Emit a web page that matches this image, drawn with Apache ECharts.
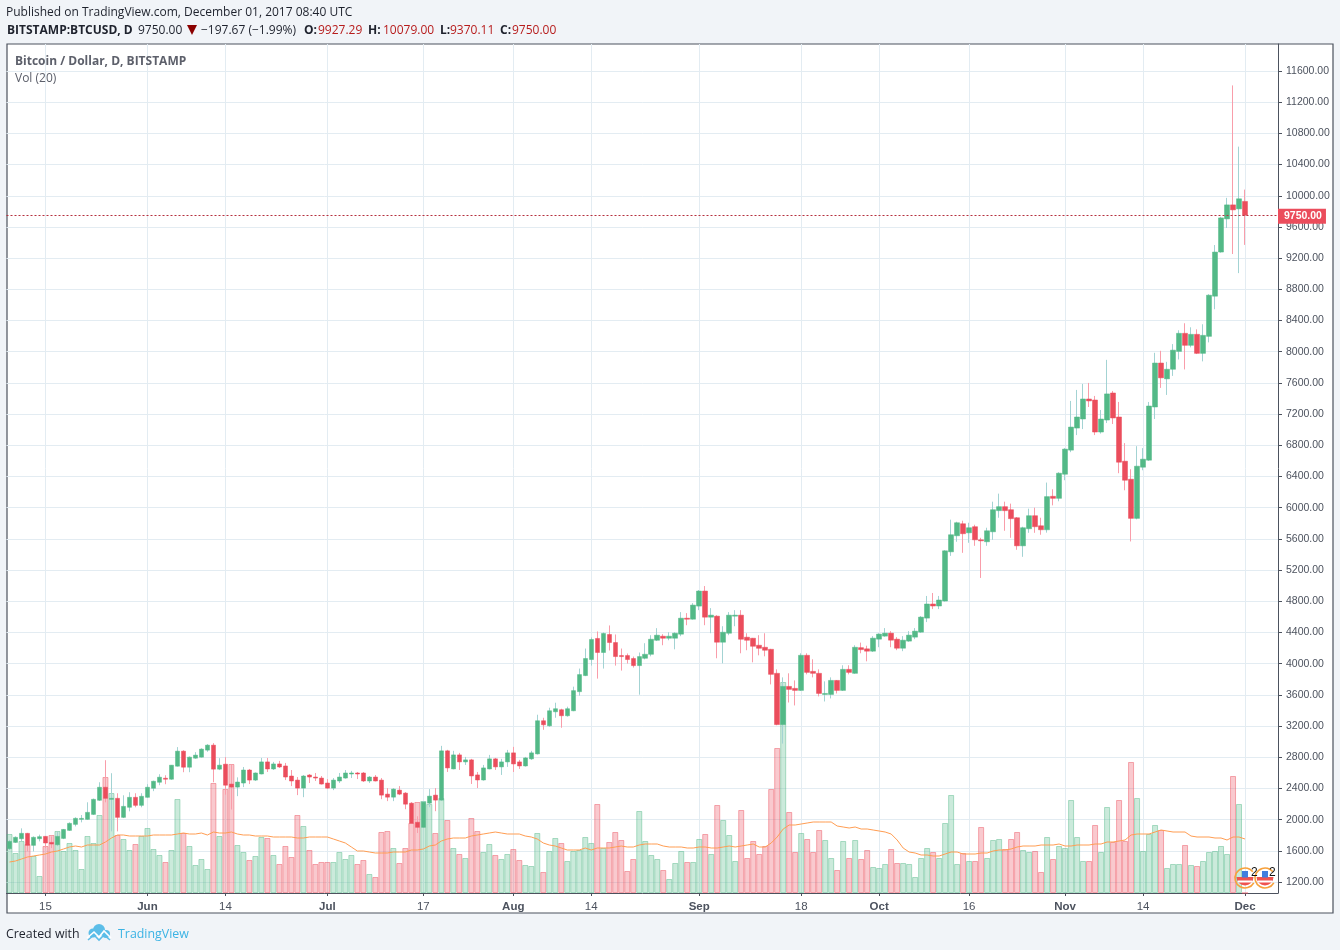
<!DOCTYPE html>
<html><head><meta charset="utf-8">
<style>html,body{margin:0;padding:0;background:#f1f4f8}#c{width:1340px;height:950px}</style>
<script src="https://cdn.jsdelivr.net/npm/echarts@6/dist/echarts.min.js"></script>
</head><body><div id="c"></div>
<script>
// Daily calendar, May 9 .. Dec 1 2017, plus empty days to the right of the last candle
const monthSpans = [['May',9,31],['Jun',1,30],['Jul',1,31],['Aug',1,31],['Sep',1,30],['Oct',1,31],['Nov',1,30],['Dec',1,6]];
const tickLabels = {'May 15':'15','Jun 1':'Jun','Jun 14':'14','Jul 1':'Jul','Jul 17':'17','Aug 1':'Aug','Aug 14':'14','Sep 1':'Sep','Sep 18':'18','Oct 1':'Oct','Oct 16':'16','Nov 1':'Nov','Nov 14':'14','Dec 1':'Dec'};
const priceTicks = [1200,1600,2000,2400,2800,3200,3600,4000,4400,4800,5200,5600,6000,6400,6800,7200,7600,8000,8400,8800,9200,9600,10000,10400,10800,11200,11600];

const opens = [
1627,1708,1755,1824,1670,1755,1785,1708,1678,1759,1862,1939,2003,2003,2067,2248,2415,2260,2273,2029,2158,2286,2183,
2286,2402,2479,2531,2518,2685,2878,2672,2788,2801,2891,2955,2647,2711,2456,2417,2469,2636,2507,2585,2740,2649,2714,2688,2559,2507,2404,2572,2546,2533,
2469,2404,2495,2533,2585,2598,2598,2495,2546,2507,2327,2288,2378,2340,2211,1966,1901,2211,2314,2250,2882,2650,2830,2740,2766,2573,2508,2650,2779,2676,2740,
2856,2740,2688,2779,2843,3268,3203,3383,3409,3332,3396,3641,3847,4053,4323,4143,4374,4271,4104,4104,4066,3975,4069,4120,4300,4352,4326,4326,4378,4583,4570,
4738,4931,4596,4609,4275,4390,4609,4622,4339,4326,4236,4210,4184,3876,3219,3708,3683,3657,4107,3901,3876,3605,3605,3785,3657,3927,3876,4205,4190,4160,
4314,4353,4391,4314,4198,4289,4340,4404,4584,4765,4739,4803,5434,5640,5794,5678,5756,5588,5563,5691,5962,6013,5974,5871,5511,5730,5897,5768,5717,6146,6120,
6429,6738,7021,7137,7394,7381,6970,7124,7471,7163,6596,6365,5863,6519,6609,7291,7855,7652,7775,8004,8236,8082,8223,7979,8197,8712,9278,9703,9883,9832,
9927.29];
const closes = [
1721,1773,1824,1670,1773,1781,1700,1687,1785,1874,1952,2016,2016,2093,2260,2415,2273,2273,2029,2170,2286,2183,2299,
2415,2492,2544,2518,2698,2878,2672,2801,2827,2904,2955,2647,2698,2441,2417,2482,2636,2507,2598,2740,2649,2714,2675,2546,2495,2404,2559,2546,2533,2456,
2404,2507,2546,2598,2598,2585,2495,2546,2495,2314,2288,2391,2327,2198,1953,1901,2224,2301,2250,2882,2663,2830,2740,2766,2560,2508,2663,2779,2676,2740,2856,
2714,2688,2791,2856,3268,3216,3396,3422,3332,3422,3654,3860,4066,4310,4143,4387,4271,4091,4091,4053,3975,4091,4120,4313,4365,4326,4352,4390,4583,4570,4751,
4931,4596,4622,4275,4403,4622,4622,4313,4300,4223,4197,4172,3863,3219,3708,3670,3657,4107,3888,3876,3618,3618,3785,3657,3927,3888,4210,4180,4160,4327,
4379,4391,4301,4198,4301,4366,4417,4597,4765,4739,4816,5447,5653,5807,5666,5743,5588,5575,5704,5974,6013,5962,5859,5511,5743,5897,5756,5717,6142,6120,6442,
6751,7034,7163,7394,7369,6970,7137,7459,7150,6583,6352,5863,6532,6622,7304,7855,7665,7775,8020,8236,8082,8223,7979,8210,8725,9278,9716,9883,9819,9961,
9750];
const highs = [
1740,1785,1888,1830,1785,1807,1790,1785,1840,1880,1965,2030,2059,2222,2270,2479,2762,2595,2338,2312,2351,2338,2338,
2454,2500,2582,2569,2700,2930,2890,2810,2865,2915,2968,2981,2788,2801,2700,2542,2675,2650,2605,2791,2791,2740,2753,2727,2636,2546,2572,2585,2598,2559,
2520,2533,2598,2636,2625,2611,2611,2559,2572,2533,2404,2404,2430,2353,2224,2043,2237,2391,2404,2946,2895,2882,2856,2804,2779,2611,2701,2830,2791,2779,2894,
2933,2766,2804,2882,3345,3306,3435,3499,3422,3448,3705,3937,4194,4336,4413,4400,4490,4374,4194,4130,4091,4143,4262,4365,4455,4378,4403,4403,4661,4648,4776,
4944,4995,4712,4622,4480,4661,4686,4686,4390,4330,4365,4390,4190,3927,3824,3876,3785,4133,4133,4056,3927,3773,3824,3790,3979,3979,4236,4270,4230,4353,
4390,4456,4417,4340,4353,4417,4456,4610,4868,4906,4868,5455,5846,5820,5833,5807,5781,5614,5743,6077,6180,6077,6052,5880,5756,5987,6000,5871,6322,6236,6455,
6764,7369,7510,7587,7600,7433,7253,7896,7497,7356,6828,6493,6789,6764,7356,7986,8012,7870,8098,8275,8365,8313,8287,8352,8738,9368,9730,9973,11415,10630,
10079];
const lows = [
1610,1700,1721,1592,1592,1721,1635,1635,1660,1750,1855,1913,1965,1995,2060,2240,2222,1850,1849,2020,2106,2158,2158,
2280,2365,2441,2454,2510,2680,2608,2608,2780,2795,2870,2479,2635,2320,2130,2301,2417,2456,2495,2580,2611,2636,2662,2507,2430,2314,2288,2469,2495,2450,
2395,2378,2469,2525,2533,2520,2482,2469,2490,2262,2237,2237,2314,2133,1945,1828,1895,2159,2108,2240,2611,2645,2637,2701,2457,2405,2500,2645,2637,2573,2676,
2611,2650,2680,2766,2835,3152,3190,3306,3178,3320,3390,3589,3840,3975,3808,3937,4169,3975,3911,4001,3950,3602,4055,4094,4290,4236,4300,4184,4352,4493,4565,
4686,4493,4390,4069,4004,4365,4480,4133,4172,4017,4107,4094,3734,3210,2975,3502,3464,3650,3863,3824,3580,3515,3554,3618,3650,3863,3870,4133,4030,4150,
4211,4345,4211,4173,4160,4280,4314,4395,4533,4700,4700,4795,5382,5563,5421,5550,5511,5099,5511,5588,5871,5704,5614,5460,5370,5678,5678,5653,5680,6030,6082,
6352,6712,6931,7008,7291,6931,6950,7085,7073,6442,6223,5567,5850,6480,6600,7137,7536,7446,7690,7901,7773,8056,7970,7876,8120,8545,9270,9587,9253,9008,
9370.11];
// Volume has no printed scale; values are read as relative heights
const volumes = [
59,40,52,49,37,17,47,58,62,42,50,43,24,57,50,78,116,100,58,54,43,49,57,
65,44,38,31,43,94,60,47,28,34,24,110,57,104,129,48,41,33,37,56,55,38,29,47,36,78,67,43,29,31,
31,31,41,34,38,29,33,19,16,61,62,45,30,45,70,91,92,89,60,95,73,45,39,35,75,62,41,49,38,34,39,
44,33,28,27,60,21,42,55,50,32,42,43,56,50,89,45,51,61,53,22,34,82,52,38,34,23,14,30,42,31,31,
54,59,39,88,73,58,32,83,35,52,39,47,104,145,211,81,41,60,54,41,63,53,35,23,52,35,53,34,43,26,
25,29,44,30,30,29,16,35,45,41,35,70,98,29,40,32,32,66,35,53,54,44,54,61,43,41,42,21,56,34,47,
45,93,56,32,32,68,41,86,51,93,52,131,95,42,59,68,63,25,29,29,48,28,27,32,41,42,47,39,117,89,
0];
const volumeMA = [
31,32,34,36,37,38,39,41,42,44,46,47,46,48,48,48,51,55,58,58,57,57,57,
57,58,58,58,58,59,60,59,59,60,58,61,60,60,61,59,58,58,57,57,57,56,56,56,56,55,55,56,56,56,
56,54,52,50,46,42,42,41,40,40,40,41,41,41,43,43,44,47,48,52,54,55,55,55,57,58,59,60,61,60,59,
59,59,57,56,54,50,48,47,45,43,43,43,45,43,45,45,45,46,47,46,46,48,49,49,49,47,46,46,46,45,45,
46,46,45,45,46,47,46,47,48,49,46,46,50,56,64,68,68,69,70,71,71,71,71,67,66,65,66,64,64,63,
62,61,59,53,45,41,40,38,38,37,37,39,41,41,39,39,39,40,40,42,43,43,44,46,47,47,47,48,48,48,49,
47,47,48,48,48,49,49,51,51,52,53,58,59,59,59,61,63,62,61,61,61,57,56,56,56,55,55,53,56,56,
54];

const UP='#53b987', DOWN='#eb4d5c', UPW='#a3d3d3', DOWNW='#f99daa', TXT='#4c525e', GRID='#e3ecf2';
const categories=[];
monthSpans.forEach(([m,a,b])=>{for(let d=a;d<=b;d++)categories.push(m+' '+d);});
const isTick=(i,v)=>v in tickLabels;
const isUp=i=>closes[i]>=opens[i];
const wicks=opens.map((o,i)=>[o,closes[i],lows[i],highs[i]]);
const bodies=opens.map((o,i)=>[o,closes[i],Math.min(o,closes[i]),Math.max(o,closes[i])]);
const volData=volumes.map((v,i)=>({value:v,itemStyle:isUp(i)?{color:'rgba(83,185,135,0.3)',borderColor:'rgba(83,185,135,0.45)'}:{color:'rgba(235,77,92,0.3)',borderColor:'rgba(235,77,92,0.45)'}}));

const HF='"Open Sans"';
const htext=(x,y,t,o)=>({type:'text',x,y,z:100,style:Object.assign({text:t,font:'12px '+HF,fill:'#1e222d',textVerticalAlign:'middle'},o||{})});
const hdr2=[[7,'BITSTAMP:BTCUSD, D',1],[138,'9750.00',0],[201,'\u2212197.67 (\u22121.99%)',0],[304,'O:',1],[318,'9927.29',2],[368,'H:',1],[383,'10079.00',2],[440,'L:',1],[450,'9370.11',2],[500,'C:',1],[512,'9750.00',2]];
const flag=(cx,cy)=>({type:'group',z:50,children:[
 {type:'arc',shape:{cx,cy,r:10,startAngle:0.5,endAngle:5.6,clockwise:true},z:52,style:{fill:'none',stroke:'#f7a13c',lineWidth:1.6}},
 {type:'sector',shape:{cx,cy:cy-1,r:8.5,startAngle:0,endAngle:Math.PI},z:50,style:{fill:'#ef5350'}},
 {type:'rect',shape:{x:cx-7,y:cy+2.5,width:14,height:2},z:51,style:{fill:'#fff'}},
 {type:'rect',shape:{x:cx-3,y:cy-7,width:6,height:6.5},z:51,style:{fill:'#3f7fe0'}}]});

const option={
 animation:false,backgroundColor:'transparent',
 graphic:{elements:[
  {type:'rect',silent:true,z:-10,zlevel:0,shape:{x:7,y:44,width:1326,height:869},style:{fill:'#fff',stroke:TXT,lineWidth:1.2}},
  htext(6,13,'Published on TradingView.com, December 01, 2017 08:40 UTC'),
  ...hdr2.map(([x,t,k])=>htext(x,31,t,{font:(k===1?'bold ':'')+'12px '+HF,fill:k===2?'#b71c1c':'#1e222d'})),
  {type:'polygon',z:100,shape:{points:[[187,25],[197,25],[192,35]]},style:{fill:'#8b0000'}},
  htext(15,62,'Bitcoin / Dollar, D, BITSTAMP',{font:'bold 12px '+HF,fill:'#5d606b'}),
  htext(15,79,'Vol (20)',{fill:'#5d606b'}),
  htext(6,934,'Created with',{font:'12.4px '+HF}),
  {type:'circle',z:100,shape:{cx:99,cy:930,r:6},style:{fill:'#5bbde8'}},
  {type:'circle',z:100,shape:{cx:93,cy:933,r:4.5},style:{fill:'#5bbde8'}},
  {type:'circle',z:100,shape:{cx:106,cy:934,r:4},style:{fill:'#5bbde8'}},
  {type:'polyline',z:101,shape:{points:[[87,938],[94,932],[99,937],[104,931],[111,938]]},style:{fill:'none',stroke:'#fff',lineWidth:1.6}},
  {type:'polyline',z:100,shape:{points:[[88,940],[94,935],[99,940],[104,935],[110,940]]},style:{fill:'none',stroke:'#5bbde8',lineWidth:1.6}},
  htext(118,934,'TradingView',{font:'12.4px '+HF,fill:'#3bb3e4'}),
  flag(1245,878),flag(1265,878),
  htext(1251,873,'2',{font:'12px Liberation Sans',fill:'#111'}),
  htext(1269,873,'2',{font:'12px Liberation Sans',fill:'#111'})
 ]},
 grid:{left:6.5,right:62,top:44,bottom:57,containLabel:false},
 xAxis:{type:'category',data:categories,boundaryGap:true,
  axisLine:{show:true,lineStyle:{color:TXT,width:1}},
  axisTick:{show:true,alignWithLabel:true,interval:isTick,length:3,lineStyle:{color:TXT}},
  axisLabel:{interval:isTick,margin:8,hideOverlap:false,color:TXT,fontFamily:'Liberation Sans',fontSize:11.5,
   formatter:v=>{const t=tickLabels[v];return t?(/[A-Z]/.test(t)?'{m|'+t+'}':t):'';},
   rich:{m:{fontWeight:'bold',fontSize:11.5,fontFamily:'Liberation Sans',color:TXT}}},
  splitLine:{show:true,alignWithLabel:true,interval:isTick,lineStyle:{color:GRID,width:1}}},
 yAxis:[
  {type:'value',position:'right',min:1059,max:11946,scale:true,
   axisLine:{show:true,lineStyle:{color:TXT,width:1}},
   axisTick:{show:true,length:4,lineStyle:{color:TXT},customValues:priceTicks},
   axisLabel:{color:TXT,fontFamily:'Liberation Sans',fontSize:10.5,margin:8,padding:[2,0,0,0],customValues:priceTicks,formatter:v=>v.toFixed(2)},
   splitLine:{show:true,lineStyle:{color:GRID,width:1}}},
  {type:'value',min:0,max:849,show:false,splitLine:{show:false}}
 ],
 series:[
  {type:'bar',name:'Volume',yAxisIndex:1,data:volData,barWidth:6,itemStyle:{borderWidth:1},z:2},
  {type:'line',name:'Vol MA',yAxisIndex:1,data:volumeMA,showSymbol:false,symbol:'none',lineStyle:{color:'#ff9d52',width:1},z:3},
  {type:'candlestick',name:'Wicks',data:wicks,barWidth:1,z:4,
   itemStyle:{color:UPW,color0:DOWNW,borderColor:UPW,borderColor0:DOWNW,borderWidth:1}},
  {type:'candlestick',name:'BTCUSD',data:bodies,barWidth:5,z:5,
   itemStyle:{color:UP,color0:DOWN,borderColor:UP,borderColor0:DOWN,borderWidth:0.5},
   markLine:{silent:true,symbol:'none',z:6,data:[{yAxis:closes[closes.length-1]}],
    lineStyle:{color:'#b5303f',type:[2,2],width:1},
    label:{show:true,position:'end',distance:0,offset:[0,1],formatter:()=>closes[closes.length-1].toFixed(2),color:'#fff',fontWeight:'bold',fontFamily:'Liberation Sans',fontSize:10.5,backgroundColor:DOWN,padding:[2,4,2,6]}}}
 ]
};
echarts.init(document.getElementById('c'),null,{renderer:'canvas'}).setOption(option);
</script></body></html>
